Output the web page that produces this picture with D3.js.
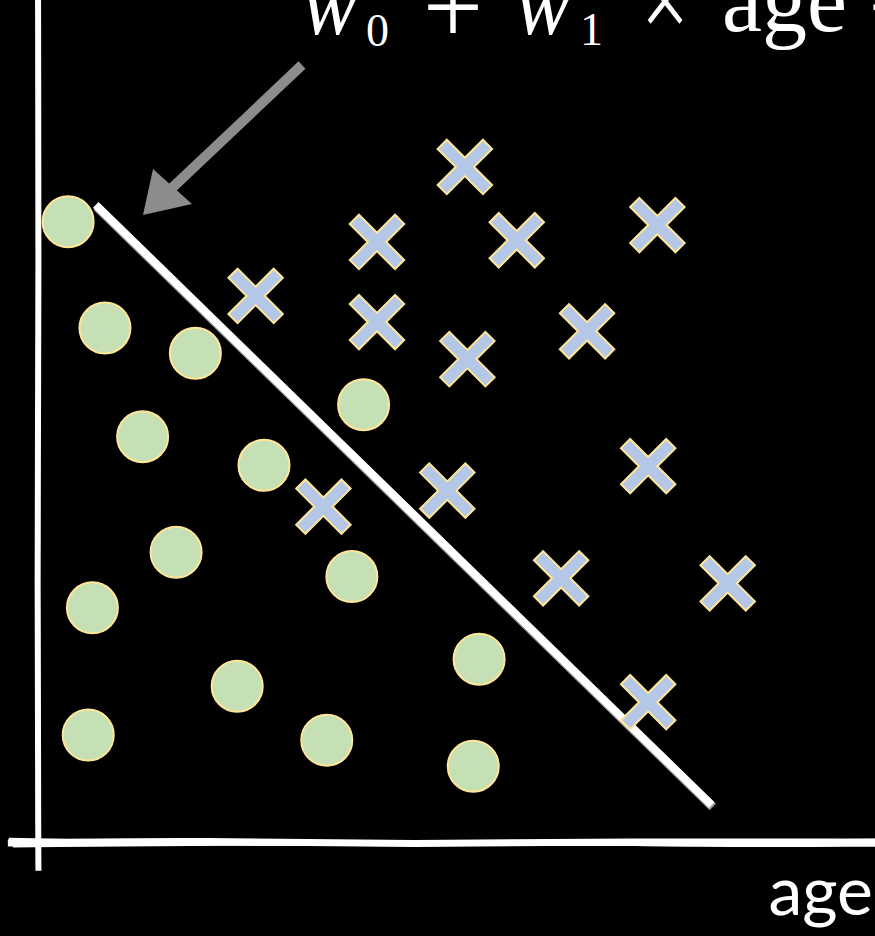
<!DOCTYPE html>
<html>
<head>
<meta charset="utf-8">
<script src="https://cdn.jsdelivr.net/npm/d3@7"></script>
<style>
  html, body { margin: 0; padding: 0; background: #000; }
  svg { display: block; }
  .math { font-family: "Liberation Serif", "DejaVu Serif", serif; }
</style>
</head>
<body>
<script>
// data (age on x, second feature on y, both in 0..100 units)
const circleX = [3.6, 8.0, 18.8, 12.5, 27.0, 38.9, 16.5, 6.5, 37.5, 23.8, 6.0, 34.5, 52.7, 52.0];
const circleY = [73.7, 61.1, 58.1, 48.2, 44.8, 52.0, 34.5, 27.9, 31.6, 18.6, 12.8, 12.2, 21.8, 9.1];
const crossX = [51.0, 40.5, 57.2, 74.0, 26.0, 40.5, 65.6, 51.3, 72.9, 48.9, 34.1, 62.5, 82.4, 72.9];
const crossY = [80.2, 71.3, 71.5, 73.3, 64.9, 61.8, 60.7, 57.4, 44.7, 41.8, 39.9, 31.4, 30.8, 16.7];
const boundary = [[6.9, 75.7], [80.5, 4.5]];
const xLabel = "age";

const W = 875, H = 936;
const svg = d3.select("body").append("svg").attr("width", W).attr("height", H);

const x = d3.scaleLinear().domain([0, 100]).range([38, 875]);
const y = d3.scaleLinear().domain([0, 100]).range([843, 0]);

// hand drawn looking axes: a few slightly wobbly overlapping strokes
const wob = d3.line().curve(d3.curveBasis);
const xAxisStrokes = [
  [[-3.6, 0.0], [20, 0.3], [45, -0.2], [70, 0.2], [100, 0.1]],
  [[-3.5, 0.4], [25, -0.3], [55, 0.2], [80, -0.3], [100, -0.2]],
  [[-3.0, -0.3], [30, 0.1], [62, -0.3], [100, 0.3]]
];
xAxisStrokes.forEach((s, i) => {
  svg.append("path").attr("d", wob(s.map(p => [x(p[0]), y(p[1])])))
    .attr("fill", "none").attr("stroke", "#fff")
    .attr("stroke-width", i === 0 ? 7 : 4);
});
const yAxisStrokes = [
  [[0, 101.5], [0.1, 70], [-0.1, 30], [0.05, -3.3]],
  [[0.15, 100], [-0.05, 60], [0.1, 20], [0.1, -3.0]]
];
yAxisStrokes.forEach((s, i) => {
  svg.append("path").attr("d", wob(s.map(p => [x(p[0]), y(p[1])])))
    .attr("fill", "none").attr("stroke", "#fff")
    .attr("stroke-width", i === 0 ? 6 : 3);
});

// decision boundary
svg.append("line")
  .attr("x1", x(boundary[0][0]) + 1).attr("y1", y(boundary[0][1]) + 2)
  .attr("x2", x(boundary[1][0]) + 1).attr("y2", y(boundary[1][1]) + 2)
  .attr("stroke", "#9a9a9a").attr("stroke-width", 9);
svg.append("line")
  .attr("x1", x(boundary[0][0])).attr("y1", y(boundary[0][1]))
  .attr("x2", x(boundary[1][0])).attr("y2", y(boundary[1][1]))
  .attr("stroke", "#fff").attr("stroke-width", 8);

// circles
svg.selectAll("circle.pt")
  .data(d3.zip(circleX, circleY))
  .enter().append("circle")
  .attr("class", "pt")
  .attr("cx", d => x(d[0]))
  .attr("cy", d => y(d[1]))
  .attr("r", 25.5)
  .attr("fill", "#c5e0b4")
  .attr("stroke", "#ffe699")
  .attr("stroke-width", 2);

// crosses
const arm = 32, hw = 6.5;
function crossPath() {
  const a = arm / Math.SQRT2, h = hw / Math.SQRT2;
  // X shape polygon built from two rotated bars
  const pts = [
    [0, -2 * h], [a - h, -a - h], [a + h, -a + h], [2 * h, 0],
    [a + h, a - h], [a - h, a + h], [0, 2 * h], [-a + h, a + h],
    [-a - h, a - h], [-2 * h, 0], [-a - h, -a + h], [-a + h, -a - h]
  ];
  return "M" + pts.map(p => p.join(",")).join("L") + "Z";
}
svg.selectAll("path.cross")
  .data(d3.zip(crossX, crossY))
  .enter().append("path")
  .attr("class", "cross")
  .attr("d", crossPath())
  .attr("transform", d => `translate(${x(d[0])},${y(d[1])})`)
  .attr("fill", "#b4c7e7")
  .attr("stroke", "#ffe699")
  .attr("stroke-width", 2);

// grey arrow pointing at the boundary
const arrowFrom = [302, 65], arrowTo = [143, 215];
svg.append("line")
  .attr("x1", arrowFrom[0]).attr("y1", arrowFrom[1])
  .attr("x2", 172).attr("y2", 188)
  .attr("stroke", "#8a8c8e").attr("stroke-width", 10);
svg.append("path")
  .attr("d", `M${arrowTo[0]},${arrowTo[1]} L${153},${169} L${192},${204} Z`)
  .attr("fill", "#8a8c8e");

// formula at the top (cropped)
const f = svg.append("g").attr("fill", "#fff").attr("class", "math");
const pieces = [
  { t: "w", x: 302, y: 34, s: 96, it: true, len: 56 },
  { t: "0", x: 366, y: 46, s: 46, it: false },
  { t: "+", x: 423, y: 44, s: 110, it: false, len: 60 },
  { t: "w", x: 515, y: 34, s: 96, it: true, len: 56 },
  { t: "1", x: 580, y: 45, s: 46, it: false },
  { t: "×", x: 641, y: 38, s: 110, it: false, len: 48 },
  { t: "age", x: 722, y: 31, s: 90, it: false, len: 125 },
  { t: "+", x: 868, y: 44, s: 110, it: false }
];
pieces.forEach(p => {
  const t = f.append("text").attr("x", p.x).attr("y", p.y)
    .attr("font-size", p.s).attr("font-style", p.it ? "italic" : "normal").text(p.t);
  if (p.len) t.attr("textLength", p.len).attr("lengthAdjust", "spacingAndGlyphs");
});

// x axis label
svg.append("text")
  .attr("x", 873).attr("y", 915)
  .attr("text-anchor", "end")
  .attr("font-family", "Lato, 'Open Sans', sans-serif")
  .attr("font-size", 68)
  .attr("fill", "#fff")
  .text(xLabel);
</script>
</body>
</html>
